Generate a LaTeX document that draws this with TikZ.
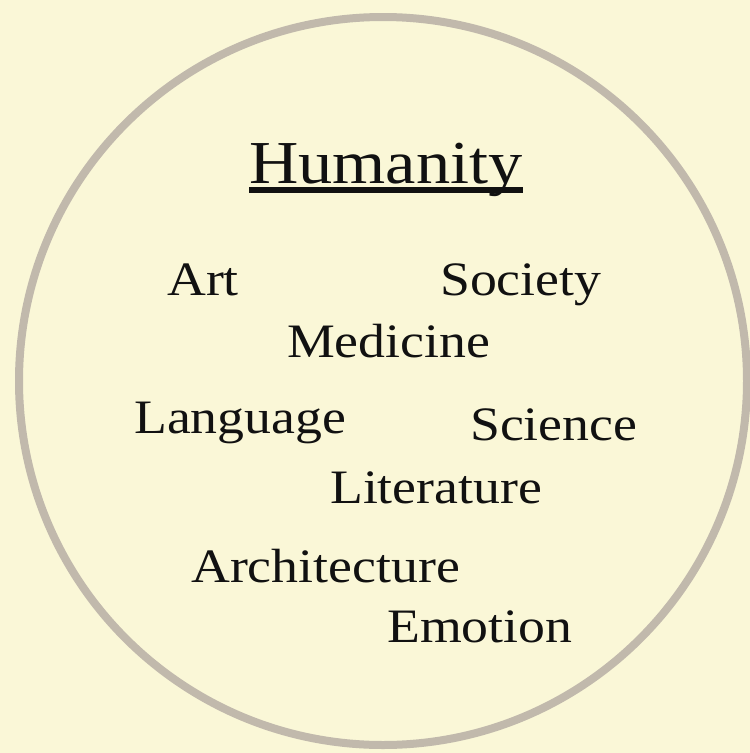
\documentclass[tikz,border=0pt]{standalone}
\usepackage{fontspec}
\setmainfont{Liberation Serif}[FakeStretch=1.12]
\usepackage{tikz}
\usetikzlibrary{positioning,calc}
\definecolor{cream}{HTML}{FAF7D7}
\definecolor{ringgray}{HTML}{C1B9AC}
\definecolor{inkdark}{HTML}{111111}
\tikzset{
  ring/.style={draw=ringgray,line width=8pt},
  word/.style={anchor=base west,inner sep=0pt,text=inkdark,font=\fontsize{48}{52}\selectfont},
  title/.style={anchor=base west,inner sep=0pt,text=inkdark,font=\fontsize{61}{66}\selectfont}
}
\begin{document}
\begin{tikzpicture}[x=1pt,y=-1pt]
  \fill[cream] (0,0) rectangle (750,753);
  \useasboundingbox (0,0) rectangle (750,753);
  \draw[ring] (383,381) circle (364);

  % title
  \node[title] (hum) at (249,183) {Humanity};
  \draw[inkdark,line width=6pt] ($(hum.base west)+(0,7)$) -- ($(hum.base east)+(0,7)$);

  % fields
  \node[word] (art) at (167,295) {Art};
  \node[word] (soc) at (440,295) {Society};
  \node[word] (med) at (287,357) {Medicine};
  \node[word] (lang) at (134,433) {Language};
  \node[word] (sci) at (470,440) {Science};
  \node[word] (lit) at (330,503) {Literature};
  \node[word] (arch) at (191,582) {Architecture};
  \node[word] (emo) at (387,642) {Emotion};
\end{tikzpicture}
\end{document}
